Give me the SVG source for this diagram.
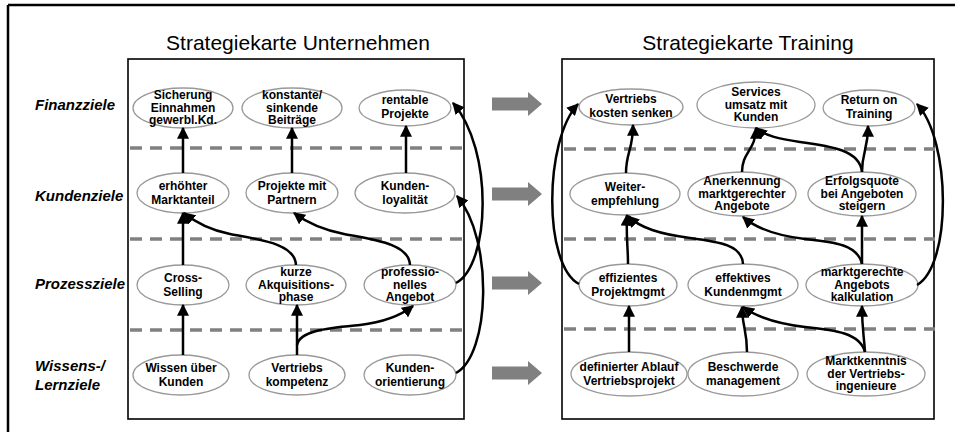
<svg xmlns="http://www.w3.org/2000/svg" width="955" height="432" viewBox="0 0 955 432">
<defs>
<marker id="ah" markerUnits="userSpaceOnUse" markerWidth="12" markerHeight="12" viewBox="0 0 10 10" refX="9" refY="5" orient="auto"><path d="M0,0 L10,5 L0,10 z" fill="#000"/></marker>
<style>
.node ellipse{fill:#fff;stroke:#999;stroke-width:1.3}
.node text{font-family:"Liberation Sans",Arial,sans-serif;font-weight:bold;font-size:12px;text-anchor:middle;fill:#000}
.lbl{font-family:"Liberation Sans",Arial,sans-serif;font-weight:bold;font-style:italic;font-size:15px;fill:#000}
.title{font-family:"Liberation Sans",Arial,sans-serif;font-size:21px;text-anchor:middle;fill:#000}
.panel{fill:none;stroke:#000;stroke-width:1.6}
.dash{stroke:#808080;stroke-width:3.5;stroke-dasharray:12 8}
.conn path{fill:none;stroke:#000;stroke-width:2.5;marker-end:url(#ah)}
.barrow{fill:#808080}
</style>
</defs>
<rect width="955" height="432" fill="#fff"/>
<g id="frame">
<line x1="8" y1="5" x2="955" y2="5" stroke="#000" stroke-width="2.5"/>
<line x1="8" y1="5" x2="8" y2="432" stroke="#000" stroke-width="2.5"/>
</g>
<g id="titles">
<text class="title" x="298" y="50">Strategiekarte Unternehmen</text>
<text class="title" x="748" y="50">Strategiekarte Training</text>
</g>
<g id="row-labels">
<text class="lbl" x="35" y="110">Finanzziele</text>
<text class="lbl" x="35" y="201">Kundenziele</text>
<text class="lbl" x="35" y="289">Prozessziele</text>
<text class="lbl" x="35" y="371">Wissens-/</text>
<text class="lbl" x="35" y="390">Lernziele</text>
</g>
<g id="panels">
<rect class="panel" x="128" y="59" width="336" height="360"/>
<rect class="panel" x="562" y="59" width="372" height="360"/>
<line class="dash" x1="130" y1="148" x2="467" y2="148"/>
<line class="dash" x1="130" y1="239" x2="467" y2="239"/>
<line class="dash" x1="130" y1="330" x2="467" y2="330"/>
<line class="dash" x1="564" y1="149" x2="935" y2="149"/>
<line class="dash" x1="564" y1="239" x2="935" y2="239"/>
<line class="dash" x1="564" y1="329" x2="935" y2="329"/>
</g>
<g id="block-arrows">
<polygon class="barrow" points="492,97.5 528,97.5 528,92 542,104 528,116 528,110.5 492,110.5"/>
<polygon class="barrow" points="492,187.5 528,187.5 528,182 542,194 528,206 528,200.5 492,200.5"/>
<polygon class="barrow" points="492,276.5 528,276.5 528,271 542,283 528,295 528,289.5 492,289.5"/>
<polygon class="barrow" points="492,366.5 528,366.5 528,361 542,373 528,385 528,379.5 492,379.5"/>
</g>
<g id="L1a" class="node"><ellipse cx="183" cy="108" rx="50" ry="20"/><text x="183" y="99">Sicherung</text><text x="183" y="111.5">Einnahmen</text><text x="183" y="124">gewerbl.Kd.</text></g>
<g id="L1b" class="node"><ellipse cx="292" cy="108" rx="50" ry="20"/><text x="292" y="99">konstante/</text><text x="292" y="111.5">sinkende</text><text x="292" y="124">Beiträge</text></g>
<g id="L1c" class="node"><ellipse cx="405" cy="108" rx="46" ry="18"/><text x="405" y="104">rentable</text><text x="405" y="117.5">Projekte</text></g>
<g id="L2a" class="node"><ellipse cx="183" cy="193" rx="46" ry="20"/><text x="183" y="190">erhöhter</text><text x="183" y="203.5">Marktanteil</text></g>
<g id="L2b" class="node"><ellipse cx="292" cy="193" rx="46" ry="20"/><text x="292" y="190">Projekte mit</text><text x="292" y="203.5">Partnern</text></g>
<g id="L2c" class="node"><ellipse cx="405" cy="193" rx="50" ry="20"/><text x="405" y="190">Kunden-</text><text x="405" y="203.5">loyalität</text></g>
<g id="L3a" class="node"><ellipse cx="183" cy="285" rx="46" ry="20"/><text x="183" y="282">Cross-</text><text x="183" y="295.5">Selling</text></g>
<g id="L3b" class="node"><ellipse cx="296" cy="285" rx="50" ry="20"/><text x="296" y="276">kurze</text><text x="296" y="288.5">Akquisitions-</text><text x="296" y="301">phase</text></g>
<g id="L3c" class="node"><ellipse cx="410" cy="285" rx="46" ry="20"/><text x="410" y="276">professio-</text><text x="410" y="288.5">nelles</text><text x="410" y="301">Angebot</text></g>
<g id="L4a" class="node"><ellipse cx="181" cy="375" rx="48" ry="20"/><text x="181" y="372">Wissen über</text><text x="181" y="385.5">Kunden</text></g>
<g id="L4b" class="node"><ellipse cx="297" cy="375" rx="48" ry="20"/><text x="297" y="372">Vertriebs</text><text x="297" y="385.5">kompetenz</text></g>
<g id="L4c" class="node"><ellipse cx="410" cy="375" rx="46" ry="20"/><text x="410" y="372">Kunden-</text><text x="410" y="385.5">orientierung</text></g>
<g id="R1a" class="node"><ellipse cx="631" cy="107" rx="52" ry="18"/><text x="631" y="103">Vertriebs</text><text x="631" y="116.5">kosten senken</text></g>
<g id="R1b" class="node"><ellipse cx="756" cy="105" rx="59" ry="23"/><text x="756" y="96">Services</text><text x="756" y="108.5">umsatz mit</text><text x="756" y="121">Kunden</text></g>
<g id="R1c" class="node"><ellipse cx="869" cy="108" rx="46" ry="18"/><text x="869" y="104">Return on</text><text x="869" y="117.5">Training</text></g>
<g id="R2a" class="node"><ellipse cx="625" cy="194" rx="55" ry="21"/><text x="625" y="191">Weiter-</text><text x="625" y="204.5">empfehlung</text></g>
<g id="R2b" class="node"><ellipse cx="742" cy="194" rx="54" ry="22"/><text x="742" y="185">Anerkennung</text><text x="742" y="197.5">marktgerechter</text><text x="742" y="210">Angebote</text></g>
<g id="R2c" class="node"><ellipse cx="862" cy="194" rx="54" ry="22"/><text x="862" y="185">Erfolgsquote</text><text x="862" y="197.5">bei Angeboten</text><text x="862" y="210">steigern</text></g>
<g id="R3a" class="node"><ellipse cx="628" cy="285" rx="49" ry="21"/><text x="628" y="282">effizientes</text><text x="628" y="295.5">Projektmgmt</text></g>
<g id="R3b" class="node"><ellipse cx="743" cy="285" rx="55" ry="21"/><text x="743" y="282">effektives</text><text x="743" y="295.5">Kundenmgmt</text></g>
<g id="R3c" class="node"><ellipse cx="862" cy="285" rx="56" ry="21"/><text x="862" y="276">marktgerechte</text><text x="862" y="288.5">Angebots</text><text x="862" y="301">kalkulation</text></g>
<g id="R4a" class="node"><ellipse cx="629" cy="374" rx="58" ry="22"/><text x="629" y="371">definierter Ablauf</text><text x="629" y="384.5">Vertriebsprojekt</text></g>
<g id="R4b" class="node"><ellipse cx="743" cy="374" rx="55" ry="22"/><text x="743" y="371">Beschwerde</text><text x="743" y="384.5">management</text></g>
<g id="R4c" class="node"><ellipse cx="866" cy="374" rx="59" ry="22"/><text x="866" y="365">Marktkenntnis</text><text x="866" y="377.5">der Vertriebs-</text><text x="866" y="390">ingenieure</text></g>
<g id="connectors" class="conn">
<path d="M183,173 L183,128"/>
<path d="M292,173 L292,128"/>
<path d="M406,173 L406,126"/>
<path d="M183,265 L183,213"/>
<path d="M296,265 C295,244 262,240 230,234 C210,230 195,222 184,213"/>
<path d="M410,265 C409,244 376,240 344,234 C324,230 306,222 294,213"/>
<path d="M183,355 L183,305"/>
<path d="M297,355 L297,305"/>
<path d="M297,345 C300,330 330,328 360,325 C385,322 400,316 413,306"/>
<path d="M456,283 C490,265 494,150 453,103"/>
<path d="M456,373 C490,355 494,240 457,196"/>
<path d="M626,173 C626,152 633,150 633,125"/>
<path d="M742,172 C742,152 756,150 756,128"/>
<path d="M862,172 C862,152 868,150 868,126"/>
<path d="M862,172 C860,150 830,146 800,142 C780,139 765,136 756,128"/>
<path d="M579,284 C543,265 544,140 578,104"/>
<path d="M917,285 C952,265 951,140 917,104"/>
<path d="M628,264 C628,245 626,240 627,215"/>
<path d="M743,264 C742,245 720,242 690,238 C660,234 640,228 628,216"/>
<path d="M862,264 L862,216"/>
<path d="M862,264 C858,245 835,242 805,239 C780,236 758,230 743,217"/>
<path d="M629,352 L629,306"/>
<path d="M747,352 C747,330 742,325 742,307"/>
<path d="M865,352 C860,333 835,330 805,327 C780,324 758,318 743,307"/>
<path d="M865,352 C864,335 862,330 862,306"/>
</g>
</svg>
